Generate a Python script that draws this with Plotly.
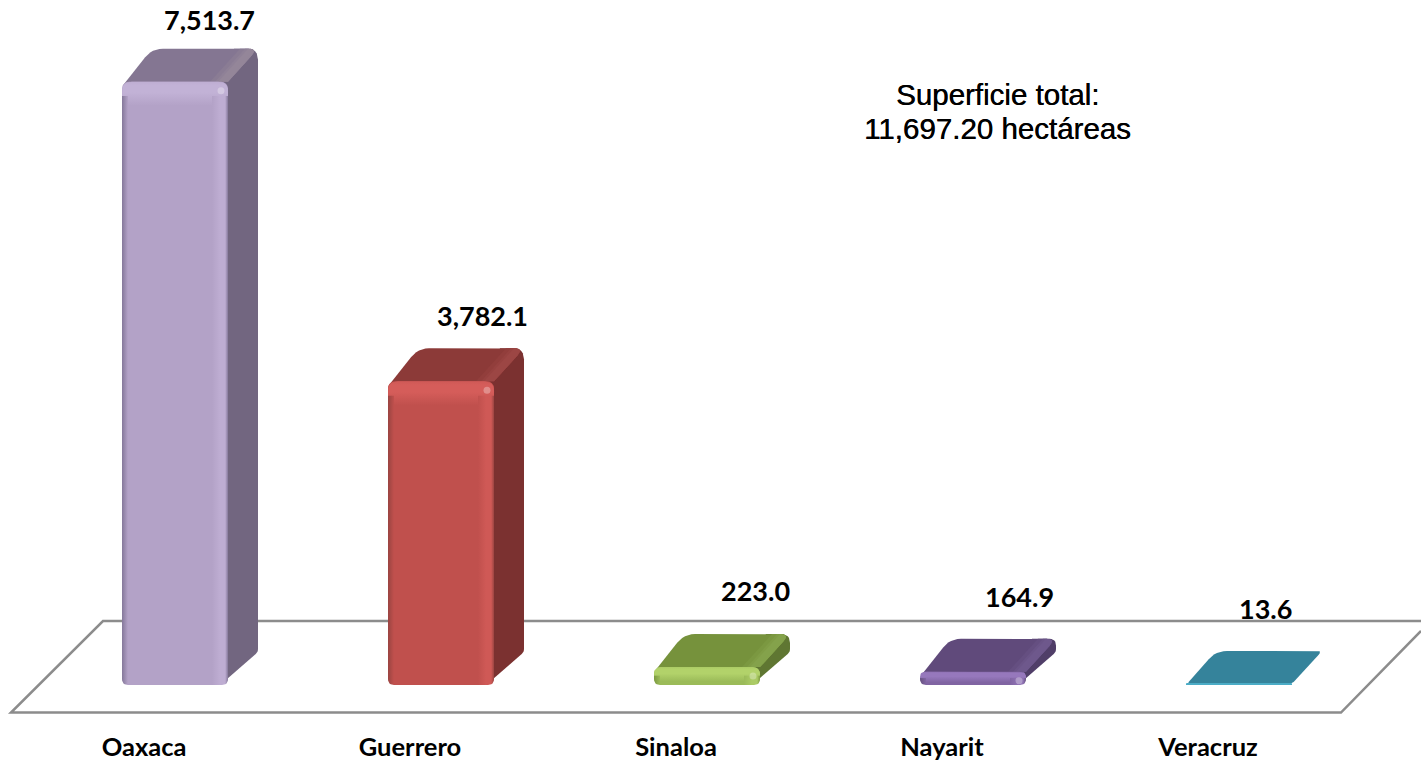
import math
import plotly.graph_objects as go

# ---- chart data ----
categories = ["Oaxaca", "Guerrero", "Sinaloa", "Nayarit", "Veracruz"]
values = [7513.7, 3782.1, 223.0, 164.9, 13.6]
note_lines = ["Superficie total:", "11,697.20 hectáreas"]

# ---- styles ----
palette = [
    dict(front="#B3A2C7", side="#726680", top="#847692", band="#948699", light="#C2B2D6", edge="#85789A"),
    dict(front="#C0504D", side="#7B3130", top="#8C3A38", band="#9C4644", light="#D55D5A", edge="#9A4441"),
    dict(front="#9BBB59", side="#5F7632", top="#76923C", band="#84A24B", light="#B2D26A", edge="#7C9A40"),
    dict(front="#8064A2", side="#503E68", top="#604A7B", band="#6E588C", light="#9678BC", edge="#65507F"),
    dict(front="#4BACC6", side="#2B7489", top="#35839B", band="#35839B", light="#4BACC6", edge="#35839B"),
]
label_dx = [34, 41, 48, 46, 26]
label_dy = [62, 66, 77, 75, 75]
note_y = [94, 129]

W, H = 1421, 761
BOTTOM = 36
PLOT_H = H - BOTTOM
STEP = 266.0          # px per category
K = 0.0803            # px per data unit
X0 = 175.0            # px of first bar centre
Y0 = 685.0            # px of zero
HALF = 53.0
DX, DY = 30.0, 33.0
xr = [(0 - X0) / STEP, (W - X0) / STEP]
yr = [(Y0 - PLOT_H) / K, Y0 / K]


def quad(s, c, e, n=6):
    return [((1 - t) ** 2 * s[0] + 2 * t * (1 - t) * c[0] + t * t * e[0],
             (1 - t) ** 2 * s[1] + 2 * t * (1 - t) * c[1] + t * t * e[1])
            for t in [k / n for k in range(n + 1)]]


def round_poly(pts, radii, frac=0.5):
    out = []
    n = len(pts)
    for j in range(n):
        p, a, b = pts[j], pts[j - 1], pts[(j + 1) % n]
        la, lb = math.dist(p, a), math.dist(p, b)
        r = min(radii[j], la * frac, lb * frac)
        if r <= 0.01:
            out.append(p)
            continue
        s = (p[0] + (a[0] - p[0]) * r / la, p[1] + (a[1] - p[1]) * r / la)
        e = (p[0] + (b[0] - p[0]) * r / lb, p[1] + (b[1] - p[1]) * r / lb)
        out.extend(quad(s, p, e))
    out.append(out[0])
    return out


def trace_from(i, shaped, color=None, grad=None, overlay=False):
    kw = dict(
        x=[i + p[0] / STEP for p in shaped],
        y=[p[1] / K for p in shaped],
        mode="lines", line=dict(width=0), fill="toself",
        hoverinfo="skip", showlegend=False,
    )
    if grad:
        kw["fillgradient"] = grad
        kw["fillcolor"] = "rgba(0,0,0,0)"
    else:
        kw["fillcolor"] = color
    if overlay:
        kw["xaxis"] = "x2"
        kw["yaxis"] = "y2"
    return go.Scatter(**kw)


def poly(i, pts, radii, frac=0.5, **kw):
    return trace_from(i, round_poly(pts, radii, frac), **kw)


def mix(a, b, t):
    ca = [int(a[k:k + 2], 16) for k in (1, 3, 5)]
    cb = [int(b[k:k + 2], 16) for k in (1, 3, 5)]
    return "#" + "".join(f"{round(x + (y - x) * t):02X}" for x, y in zip(ca, cb))


fig = go.Figure()

# back faces: side and top
for i, v in enumerate(values):
    c = palette[i]
    h = v * K
    tall = h > 5
    if tall:
        fig.add_trace(poly(i, [(HALF - 8, 0), (HALF + DX, DY), (HALF + DX, h + DY),
                               (HALF + DX - 24, h + DY), (HALF - 8, h)],
                           [4, 3, 11, 0, 0], color=c["side"]))
        fig.add_trace(poly(i, [(-HALF, h - 5), (-HALF + DX, h + DY), (HALF + DX, h + DY), (HALF, h)],
                           [2, 11, 10, 8], color=c["top"]))
        # soft lighter band along the right end of the top face
        for wid, t in [(18, 0.35), (13, 0.7), (10, 1.0)]:
            fig.add_trace(poly(i, [(HALF - wid, h), (HALF + DX - wid, h + DY), (HALF + DX, h + DY), (HALF, h)],
                               [0, 0, 10, 0], frac=1.0, color=mix(c["top"], c["band"], t)))
    else:
        fig.add_trace(poly(i, [(-HALF, h - 1), (-HALF + DX, h + DY), (HALF + DX, h + DY), (HALF, h - 1)],
                           [5, 11, 5, 9], color=c["top"]))

# front faces
fig.add_trace(go.Bar(
    x=list(range(len(values))), y=values, width=2 * HALF / STEP,
    marker=dict(color=[c["front"] for c in palette], line=dict(width=0), cornerradius=7),
    xaxis="x2", yaxis="y2", hoverinfo="skip", showlegend=False,
))

# bevels on the front faces
for i, v in enumerate(values):
    c = palette[i]
    h = v * K
    if h < 5:
        continue
    band = min(24, h * 0.8)
    soft = mix(c["front"], c["light"], 0.7)
    fig.add_trace(poly(i, [(-HALF, h - band), (-HALF, h), (HALF, h), (HALF, h - band)],
                       [0, 10, 10, 0], overlay=True, grad=dict(
                           type="vertical",
                           colorscale=[[0, c["front"]], [0.55, c["light"]],
                                       [0.85, c["light"]], [1, soft]])))
    top_of_side = h - band * 0.6
    fig.add_trace(poly(i, [(HALF - 16, 0), (HALF - 16, top_of_side), (HALF, top_of_side), (HALF, 0)],
                       [0, 0, 0, 0], overlay=True, grad=dict(
                           type="horizontal",
                           colorscale=[[0, c["front"]], [0.5, soft], [0.82, soft], [1, c["edge"]]])))
    fig.add_trace(poly(i, [(-HALF, 0), (-HALF, top_of_side), (-HALF + 6, top_of_side), (-HALF + 6, 0)],
                       [0, 0, 0, 0], overlay=True, grad=dict(
                           type="horizontal",
                           colorscale=[[0, c["edge"]], [1, c["front"]]])))
    fig.add_trace(go.Scatter(
        x=[i + (HALF - 7) / STEP], y=[(h - 9) / K], mode="markers",
        marker=dict(size=7, color="rgba(255,255,255,0.3)", line=dict(width=0)),
        xaxis="x2", yaxis="y2", hoverinfo="skip", showlegend=False,
    ))
    # rounded lower corners of the front face
    r = 6
    fig.add_trace(trace_from(i, [(HALF, 0)] + quad((HALF - r, 0), (HALF, 0), (HALF, r)) + [(HALF, 0)],
                             color="#FFFFFF", overlay=True))
    fig.add_trace(trace_from(i, [(-HALF, 0)] + quad((-HALF + r, 0), (-HALF, 0), (-HALF, r)) + [(-HALF, 0)],
                             color="#FFFFFF", overlay=True))

# value labels
annotations = []
for i, v in enumerate(values):
    annotations.append(dict(
        x=i, y=v, xref="x2", yref="y2", text=f"<b>{v:,.1f}</b>", showarrow=False,
        xshift=label_dx[i], yshift=label_dy[i], xanchor="center", yanchor="middle",
        font=dict(family="Lato", size=27, color="#000000"),
    ))
for line, ny in zip(note_lines, note_y):
    annotations.append(dict(
        x=997.5 / W, y=1 - ny / PLOT_H, xref="paper", yref="paper",
        text=line, showarrow=False, align="center",
        xanchor="center", yanchor="middle",
        font=dict(family="Liberation Sans", size=29.5, color="#000000", shadow="0.4px 0 0 #000000"),
    ))


def px(xp):
    return xp / W


def py(yp):
    return 1 - yp / PLOT_H


floor_pts = [(1421, 621), (103, 621), (11, 712.5), (1341, 712.5), (1421, 631)]
floor_path = "M " + " L ".join(f"{px(a):.5f},{py(b):.5f}" for a, b in floor_pts)

axis_x = dict(
    range=xr, showgrid=False, zeroline=False, showline=False,
    tickmode="array", tickvals=[i - 31 / STEP for i in range(len(categories))],
    ticktext=[f"<b>{c}</b>" for c in categories],
    tickfont=dict(family="Lato", size=25.5, color="#000000"),
    ticks="", ticklen=0, ticklabelstandoff=4,
)
axis_y = dict(range=yr, showgrid=False, zeroline=False, showline=False, showticklabels=False, fixedrange=True)

fig.update_layout(
    width=W, height=H, autosize=False,
    margin=dict(l=0, r=0, t=0, b=BOTTOM, pad=0, autoexpand=False),
    paper_bgcolor="white", plot_bgcolor="white",
    xaxis=axis_x, yaxis=axis_y,
    xaxis2=dict(range=xr, overlaying="x", visible=False),
    yaxis2=dict(range=yr, overlaying="y", visible=False),
    annotations=annotations,
    shapes=[dict(type="path", path=floor_path, xref="paper", yref="paper",
                 line=dict(color="#8C8C8C", width=2.5), layer="below")],
    showlegend=False,
    barmode="overlay",
)

fig.write_html("out.html", config=dict(displayModeBar=False),
               post_script="document.body.style.margin='0';")
